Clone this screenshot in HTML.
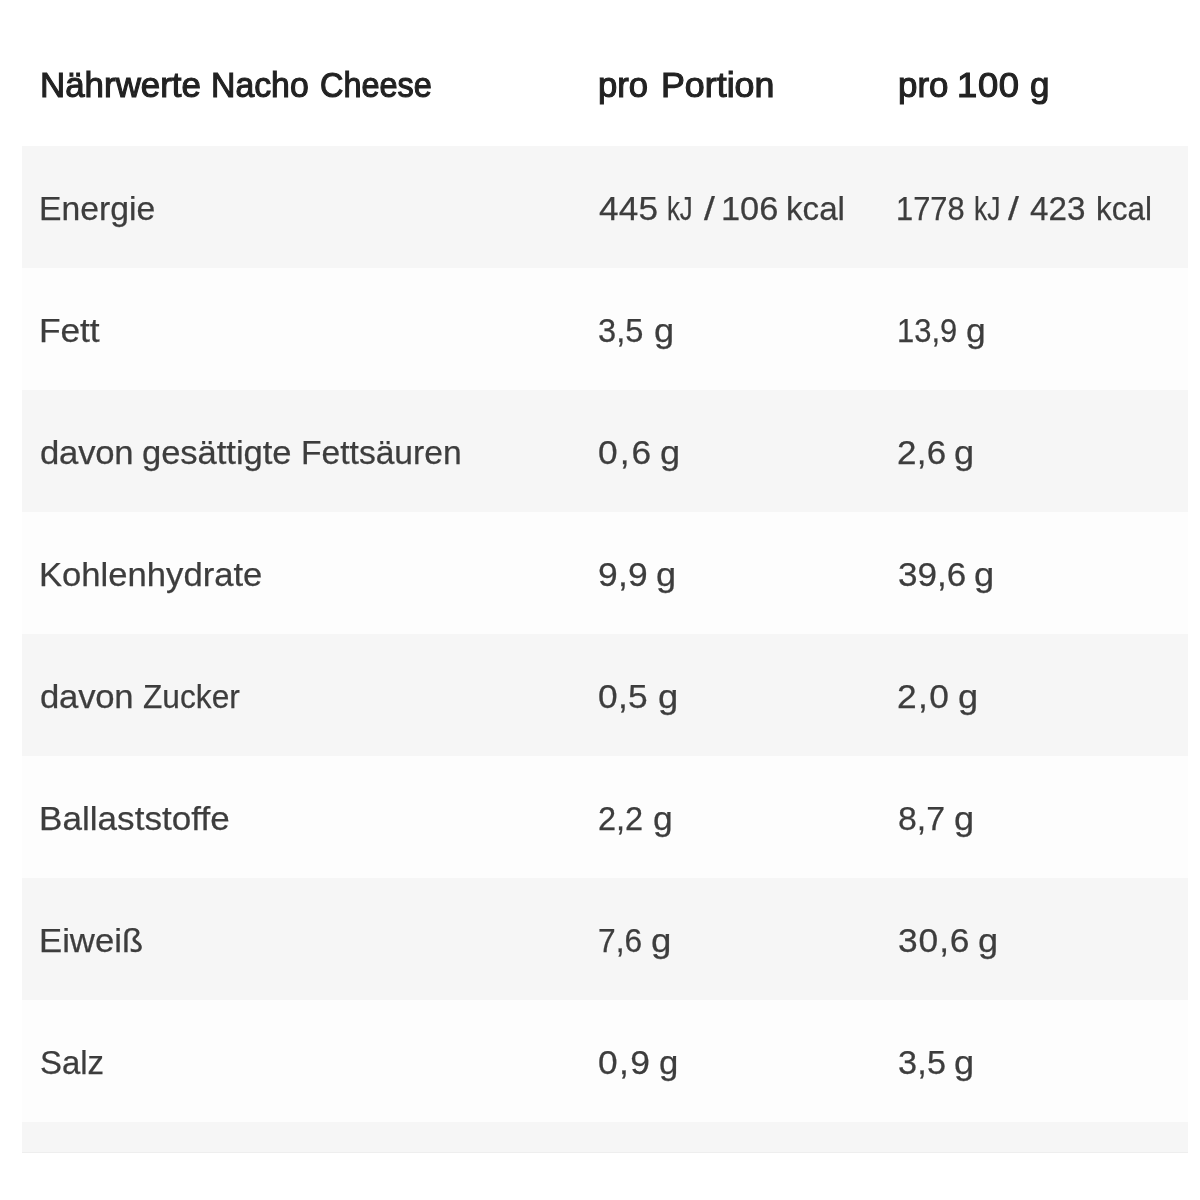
<!DOCTYPE html>
<html lang="de"><head><meta charset="utf-8"><title>Nährwerte Nacho Cheese</title>
<style>
html,body{margin:0;padding:0;background:#fff;}
body{width:1200px;height:1200px;position:relative;overflow:hidden;font-family:"Liberation Sans",sans-serif;color:#3d3d3d;}
.tbl{position:absolute;left:22px;top:0;width:1166px;}
.row{position:relative;height:122px;}
.row.h{height:146px;background:#fff;}
.row.a{background:#f6f6f6;}
.row.b{background:#fdfdfd;}
.row.last{height:31px;border-bottom:1px solid #eeeeee;box-sizing:border-box}
.c{position:absolute;top:42px;height:40px;white-space:nowrap;font-size:34px;line-height:40px;-webkit-text-stroke:0.25px #3d3d3d;}
.w{display:inline-block;position:relative;white-space:nowrap;transform-origin:0 50%;}
.h .c{top:65px;color:#222;font-size:35px;-webkit-text-stroke:1.1px #222;}
</style></head><body>
<div class="tbl">
<div class="row h"><span class="c" style="left:20.2px"><span class="w" style="left:-1.79px;transform:scaleX(0.9969)">Nährwerte</span> <span class="w" style="left:-2.18px;transform:scaleX(0.9654)">Nacho</span> <span class="w" style="left:-4.13px;transform:scaleX(0.9274)">Cheese</span></span><span class="c" style="left:578.2px"><span class="w" style="left:-1.79px;transform:scaleX(0.9907)">pro</span> <span class="w" style="left:0.08px;transform:scaleX(1.0224)">Portion</span></span><span class="c" style="left:877.5px"><span class="w" style="left:-1.95px;transform:scaleX(0.9960)">pro</span> <span class="w" style="left:-2.38px;letter-spacing:0.649px;transform:scaleX(1.0400)">100</span> <span class="w" style="left:0.09px;transform:scaleX(0.9997)">g</span></span></div>
<div class="row a"><span class="c" style="left:19.5px"><span class="w" style="left:-2.95px;transform:scaleX(0.9908)">Energie</span></span><span class="c" style="left:578.3px"><span class="w" style="left:-1.15px;letter-spacing:0.217px;transform:scaleX(1.0345)">445</span> <span class="w" style="left:0.01px;transform:scaleX(0.7548)">kJ</span> <span class="w" style="left:-6.84px;transform:scaleX(1.1500)">/</span> <span class="w" style="left:-8.90px;transform:scaleX(1.0113)">106</span> <span class="w" style="left:-9.49px;transform:scaleX(0.9752)">kcal</span></span><span class="c" style="left:875.8px"><span class="w" style="left:-2.20px;transform:scaleX(0.9075)">1778</span> <span class="w" style="left:-8.89px;transform:scaleX(0.7768)">kJ</span> <span class="w" style="left:-18.24px;transform:scaleX(1.1500)">/</span> <span class="w" style="left:-15.50px;transform:scaleX(0.9767)">423</span> <span class="w" style="left:-14.99px;transform:scaleX(0.9261)">kcal</span></span></div>
<div class="row b"><span class="c" style="left:20.0px"><span class="w" style="left:-3.00px;letter-spacing:-0.144px;transform:scaleX(1.0400)">Fett</span></span><span class="c" style="left:577.5px"><span class="w" style="left:-1.05px;transform:scaleX(0.9587)">3,5</span> <span class="w" style="left:-2.22px;transform:scaleX(1.0625)">g</span></span><span class="c" style="left:877.0px"><span class="w" style="left:-2.00px;transform:scaleX(0.9105)">13,9</span> <span class="w" style="left:-8.29px;transform:scaleX(1.0421)">g</span></span></div>
<div class="row a"><span class="c" style="left:19.2px"><span class="w" style="left:-0.89px;letter-spacing:-0.221px;transform:scaleX(1.0202)">davon</span> <span class="w" style="left:0.26px;letter-spacing:-0.049px;transform:scaleX(1.0172)">gesättigte</span> <span class="w" style="left:1.96px;transform:scaleX(0.9883)">Fettsäuren</span></span><span class="c" style="left:577.5px"><span class="w" style="left:-1.05px;letter-spacing:1.947px;transform:scaleX(1.0400)">0,6</span> <span class="w" style="left:-2.06px;transform:scaleX(1.0625)">g</span></span><span class="c" style="left:877.0px"><span class="w" style="left:-2.00px;letter-spacing:0.219px;transform:scaleX(1.0295)">2,6</span> <span class="w" style="left:-2.52px;transform:scaleX(1.0622)">g</span></span></div>
<div class="row b"><span class="c" style="left:19.5px"><span class="w" style="left:-2.95px;transform:scaleX(1.0186)">Kohlenhydrate</span></span><span class="c" style="left:577.5px"><span class="w" style="left:-1.95px;letter-spacing:0.216px;transform:scaleX(1.0400)">9,9</span> <span class="w" style="left:-0.88px;transform:scaleX(1.0625)">g</span></span><span class="c" style="left:877.0px"><span class="w" style="left:-1.00px;transform:scaleX(1.0312)">39,6</span> <span class="w" style="left:-0.19px;transform:scaleX(1.0656)">g</span></span></div>
<div class="row a"><span class="c" style="left:19.2px"><span class="w" style="left:-0.89px;letter-spacing:-0.221px;transform:scaleX(1.0202)">davon</span> <span class="w" style="left:0.81px;transform:scaleX(0.9319)">Zucker</span></span><span class="c" style="left:577.5px"><span class="w" style="left:-1.05px;letter-spacing:0.216px;transform:scaleX(1.0400)">0,5</span> <span class="w" style="left:1.12px;transform:scaleX(1.0681)">g</span></span><span class="c" style="left:877.0px"><span class="w" style="left:-2.00px;letter-spacing:1.298px;transform:scaleX(1.0400)">2,0</span> <span class="w" style="left:-2.03px;transform:scaleX(1.0622)">g</span></span></div>
<div class="row b"><span class="c" style="left:19.5px"><span class="w" style="left:-2.95px;letter-spacing:0.036px;transform:scaleX(1.0304)">Ballaststoffe</span></span><span class="c" style="left:577.5px"><span class="w" style="left:-1.05px;transform:scaleX(0.9561)">2,2</span> <span class="w" style="left:-3.52px;transform:scaleX(1.0423)">g</span></span><span class="c" style="left:877.0px"><span class="w" style="left:-1.00px;transform:scaleX(0.9947)">8,7</span> <span class="w" style="left:-1.87px;transform:scaleX(1.0622)">g</span></span></div>
<div class="row a"><span class="c" style="left:19.5px"><span class="w" style="left:-2.95px;transform:scaleX(1.0204)">Eiweiß</span></span><span class="c" style="left:577.5px"><span class="w" style="left:-1.05px;transform:scaleX(0.9333)">7,6</span> <span class="w" style="left:-4.77px;transform:scaleX(1.0767)">g</span></span><span class="c" style="left:877.0px"><span class="w" style="left:-1.00px;letter-spacing:0.865px;transform:scaleX(1.0400)">30,6</span> <span class="w" style="left:-0.09px;transform:scaleX(1.0625)">g</span></span></div>
<div class="row b"><span class="c" style="left:19.5px"><span class="w" style="left:-1.95px;transform:scaleX(0.9683)">Salz</span></span><span class="c" style="left:577.6px"><span class="w" style="left:-1.39px;letter-spacing:1.298px;transform:scaleX(1.0400)">0,9</span> <span class="w" style="left:-0.77px;transform:scaleX(1.0194)">g</span></span><span class="c" style="left:877.0px"><span class="w" style="left:-1.00px;letter-spacing:0.224px;transform:scaleX(1.0067)">3,5</span> <span class="w" style="left:-2.54px;transform:scaleX(1.0622)">g</span></span></div>
<div class="row a last"></div>
</div>
</body></html>
